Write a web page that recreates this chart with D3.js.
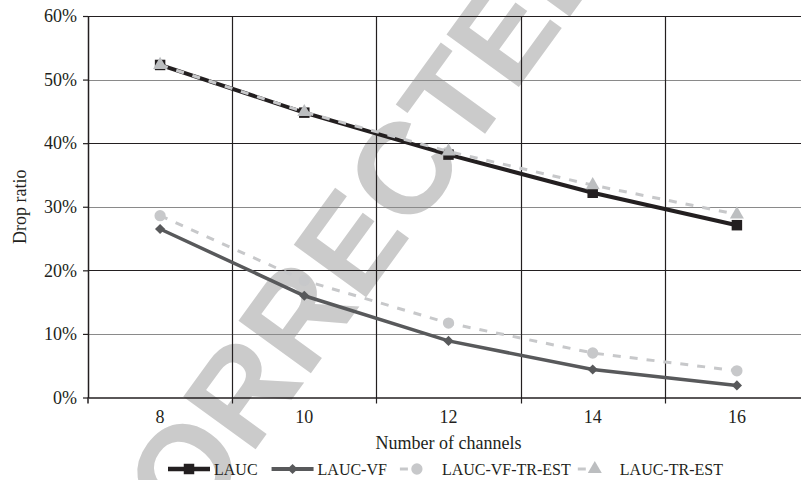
<!DOCTYPE html>
<html>
<head>
<meta charset="utf-8">
<script src="https://cdn.jsdelivr.net/npm/d3@7"></script>
<style>
  body { margin: 0; background: #fff; }
  text { font-family: "Liberation Serif", "Times New Roman", serif; fill: #231f20; }
</style>
</head>
<body>
<div id="chart"></div>
<script>
// data
var categories = ["8", "10", "12", "14", "16"];
var laucValues = [0.523, 0.448, 0.382, 0.322, 0.271];
var laucVfValues = [0.265, 0.160, 0.089, 0.044, 0.019];
var laucVfTrEstValues = [0.286, 0.184, 0.117, 0.070, 0.042];
var laucTrEstValues = [0.523, 0.449, 0.387, 0.334, 0.288];
var yTickValues = [0, 0.1, 0.2, 0.3, 0.4, 0.5, 0.6];
var seriesNames = ["LAUC", "LAUC-VF", "LAUC-VF-TR-EST", "LAUC-TR-EST"];

var width = 801, height = 480;
var margin = {top: 16, right: -8, bottom: 82.5, left: 88};

var svg = d3.select("#chart")
  .append("svg")
    .attr("width", width)
    .attr("height", height);

// watermark sits behind everything
svg.append("text")
    .text("CORRECTED")
    .attr("transform", "translate(136,614) rotate(-54)")
    .style("font-family", "'Liberation Sans', Arial, sans-serif")
    .style("font-weight", "bold")
    .style("font-size", "130px")
    .style("fill", "#cbcbcb");

var x = d3.scaleBand()
  .domain(categories)
  .range([margin.left, width - margin.right]);

var y = d3.scaleLinear()
  .domain([0, 0.6])
  .range([height - margin.bottom, margin.top]);

var cx = function(c) { return x(c) + x.bandwidth() / 2; };

// horizontal gridlines
svg.append("g")
  .selectAll("line")
  .data(yTickValues.slice(1))
  .enter().append("line")
    .attr("x1", margin.left)
    .attr("x2", width - margin.right)
    .attr("y1", function(d) { return Math.round(y(d)) + 0.5; })
    .attr("y2", function(d) { return Math.round(y(d)) + 0.5; })
    .attr("stroke", function(d, i) { return i % 2 === 0 ? "#8a8a8a" : "#231f20"; })
    .attr("stroke-width", 1.2);

// vertical gridlines at category boundaries
var bounds = categories.slice(1).map(function(c) { return x(c); });
svg.append("g")
  .selectAll("line")
  .data(bounds)
  .enter().append("line")
    .attr("x1", function(d) { return Math.round(d) + 0.5; })
    .attr("x2", function(d) { return Math.round(d) + 0.5; })
    .attr("y1", y(0.6))
    .attr("y2", y(0) + 6)
    .attr("stroke", "#231f20")
    .attr("stroke-width", 1.2);

// Y axis
var yAxis = svg.append("g")
  .attr("transform", "translate(" + margin.left + ",0)")
  .call(d3.axisLeft(y)
    .tickValues(yTickValues)
    .tickFormat(d3.format(".0%"))
    .tickSize(5)
    .tickSizeOuter(0)
    .tickPadding(6));
yAxis.select(".domain").attr("stroke", "#231f20").attr("stroke-width", 1.5);
yAxis.selectAll(".tick line").attr("stroke", "#231f20").attr("stroke-width", 1.2);
yAxis.selectAll("text").style("font-size", "18px").style("font-family", "'Liberation Serif', serif").attr("fill", "#231f20");
svg.append("line")
    .attr("x1", margin.left).attr("x2", margin.left)
    .attr("y1", y(0)).attr("y2", y(0) + 6)
    .attr("stroke", "#231f20").attr("stroke-width", 1.5);

// X axis (labels centred in bands)
var xAxis = svg.append("g")
  .attr("transform", "translate(0," + y(0) + ")")
  .call(d3.axisBottom(x).tickSize(0).tickSizeOuter(0).tickPadding(13));
xAxis.select(".domain").attr("stroke", "#231f20").attr("stroke-width", 1.5);
xAxis.selectAll("text").style("font-size", "18px").style("font-family", "'Liberation Serif', serif").attr("fill", "#231f20");

// axis titles
svg.append("text")
    .text("Number of channels")
    .attr("x", (margin.left + width - margin.right) / 2)
    .attr("y", 449)
    .style("text-anchor", "middle")
    .style("font-size", "18px");

svg.append("text")
    .text("Drop ratio")
    .attr("transform", "translate(26," + (y(0) + y(0.6)) / 2 + ") rotate(-90)")
    .style("text-anchor", "middle")
    .style("font-size", "18px");

// series
var series = [
  {name: seriesNames[0], values: laucValues, color: "#231f20", width: 4, dash: null, marker: "square", fill: "#231f20"},
  {name: seriesNames[1], values: laucVfValues, color: "#58595b", width: 3.5, dash: null, marker: "diamond", fill: "#58595b"},
  {name: seriesNames[2], values: laucVfTrEstValues, color: "#c7c8ca", width: 3, dash: "8,9", marker: "circle", fill: "#c7c8ca"},
  {name: seriesNames[3], values: laucTrEstValues, color: "#c7c8ca", width: 3, dash: "8,9", marker: "triangle", fill: "#bcbec0"}
];

var line = d3.line()
  .x(function(d) { return cx(d.cat); })
  .y(function(d) { return y(d.v); });

function markerPath(type) {
  if (type === "square") return d3.symbol().type(d3.symbolSquare).size(110)();
  if (type === "diamond") return d3.symbol().type(d3.symbolSquare).size(52)();
  if (type === "circle") return d3.symbol().type(d3.symbolCircle).size(100)();
  return d3.symbol().type(d3.symbolTriangle).size(85)();
}

series.forEach(function(s) {
  var pts = categories.map(function(c, i) { return {cat: c, v: s.values[i]}; });
  var g = svg.append("g");
  g.append("path")
    .datum(pts)
    .attr("fill", "none")
    .attr("stroke", s.color)
    .attr("stroke-width", s.width)
    .attr("stroke-dasharray", s.dash)
    .attr("d", line);
  g.selectAll(".mark")
    .data(pts)
    .enter().append("path")
      .attr("class", "mark")
      .attr("d", markerPath(s.marker))
      .attr("fill", s.fill)
      .attr("transform", function(d) {
        return "translate(" + cx(d.cat) + "," + y(d.v) + ")" + (s.marker === "diamond" ? " rotate(45)" : "");
      });
});

// legend
var legend = svg.append("g");
var lx = 168, ly = 469;
var legendGaps = [14, 9, 3];
series.forEach(function(s, i) {
  var g = legend.append("g");
  if (s.dash) {
    g.append("line")
      .attr("x1", lx + 4).attr("x2", lx + 21)
      .attr("y1", ly).attr("y2", ly)
      .attr("stroke", s.color).attr("stroke-width", s.width)
      .attr("stroke-dasharray", s.dash);
  } else {
    g.append("line")
      .attr("x1", lx).attr("x2", lx + 42)
      .attr("y1", ly).attr("y2", ly)
      .attr("stroke", s.color).attr("stroke-width", s.width + 0.5);
  }
  g.append("path")
    .attr("d", markerPath(s.marker))
    .attr("fill", s.fill)
    .attr("transform", "translate(" + (lx + 21) + "," + ly + ")" + (s.marker === "diamond" ? " rotate(45)" : ""));
  var t = g.append("text")
    .text(s.name)
    .attr("x", lx + 46)
    .attr("y", ly + 6)
    .style("font-size", "16px");
  lx = lx + 46 + t.node().getComputedTextLength() + (legendGaps[i] || 9);
});
</script>
</body>
</html>
